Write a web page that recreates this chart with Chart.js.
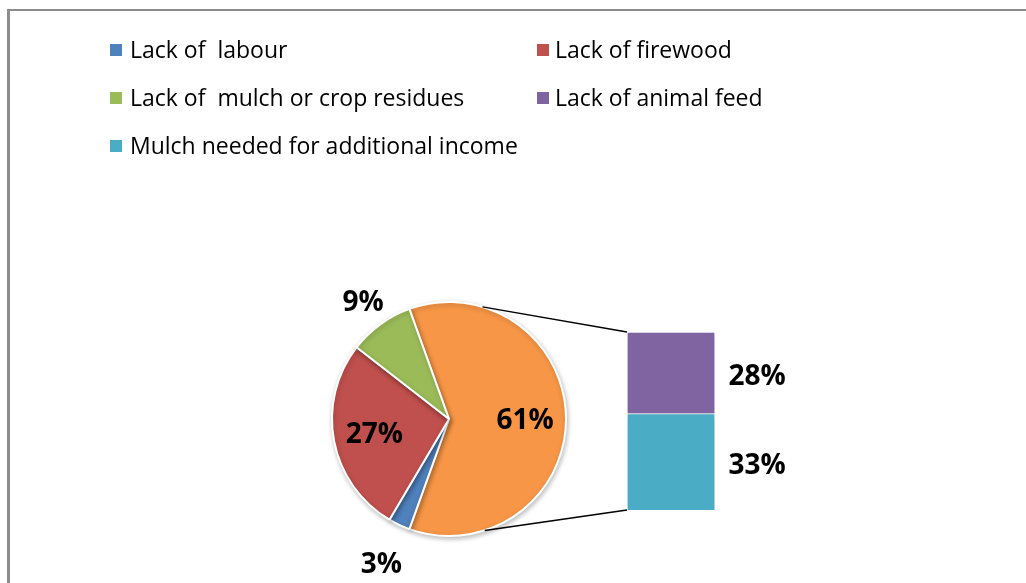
<!DOCTYPE html>
<html>
<head>
<meta charset="utf-8">
<script src="https://cdn.jsdelivr.net/npm/chart.js@4"></script>
<style>
    html, body { margin: 0; padding: 0; background: #fff; }
    #wrap { position: relative; width: 1026px; height: 583px; overflow: hidden; }
    #wrap canvas { position: absolute; left: 0; top: 0; }
    #frame { position: absolute; left: 7px; top: 9px; width: 1100px; height: 700px;
             border-top: 2px solid #8c8c8c; border-left: 3px solid #8c8c8c; }
</style>
</head>
<body>
<div id="wrap">
    <div id="frame"></div>
    <canvas id="pieChart" width="1026" height="583"></canvas>
    <canvas id="barChart" width="1026" height="583"></canvas>
</div>
<script>
// legend entries
var legendLabels = ['Lack of  labour', 'Lack of firewood', 'Lack of  mulch or crop residues',
    'Lack of animal feed', 'Mulch needed for additional income'];
var legendColors = ['#4f81bd', '#c0504d', '#9bbb59', '#8064a2', '#4bacc6'];

// pie: "Other" (orange) first, then labour, firewood, mulch
var pieLabels = ['Other', 'Lack of  labour', 'Lack of firewood', 'Lack of  mulch or crop residues'];
var pieValues = [61, 3, 27, 9];
var pieColors = ['#f79646', '#4f81bd', '#c0504d', '#9bbb59'];

// bar: stacked from bottom
var barLabels = ['Mulch needed for additional income', 'Lack of animal feed'];
var barValues = [33, 28];
var barColors = ['#4bacc6', '#8064a2'];

var labelFont = 'bold 28px "Open Sans", sans-serif';
var pieChart;

// ================= PIE =================
var pieLabelPlugin = {
    id: 'pieLabels',
    afterDatasetsDraw: function (chart) {
        var ctx = chart.ctx;
        var arcs = chart.getDatasetMeta(0).data;
        // distance of each label from centre, in radii
        var dist = [0.65, 1.36, 0.65, 1.25];
        ctx.save();
        ctx.font = labelFont;
        ctx.fillStyle = '#000';
        ctx.textAlign = 'center';
        ctx.textBaseline = 'middle';
        arcs.forEach(function (arc, i) {
            var mid = (arc.startAngle + arc.endAngle) / 2;
            var r = arc.outerRadius * dist[i];
            ctx.fillText(pieValues[i] + '%', arc.x + Math.cos(mid) * r, arc.y + Math.sin(mid) * r + 2);
        });
        ctx.restore();
    },
    afterDraw: function (chart) {
        // two-column legend
        var ctx = chart.ctx;
        ctx.save();
        ctx.font = '23px "Open Sans", sans-serif';
        ctx.textBaseline = 'middle';
        legendLabels.forEach(function (lbl, i) {
            var col = i % 2, row = Math.floor(i / 2);
            var x = col === 0 ? 110 : 537;
            var y = 50 + row * 48;
            ctx.fillStyle = legendColors[i];
            ctx.fillRect(x, y - 6, 12, 12);
            ctx.fillStyle = '#000';
            ctx.fillText(lbl, x + (col === 0 ? 20 : 18), y + 1);
        });
        ctx.restore();
    }
};

var shadowPlugin = {
    id: 'softShadow',
    beforeDatasetsDraw: function (chart) {
        chart.ctx.save();
        chart.ctx.shadowColor = 'rgba(0,0,0,0.25)';
        chart.ctx.shadowBlur = 5;
        chart.ctx.shadowOffsetX = 1;
        chart.ctx.shadowOffsetY = 2;
    },
    afterDatasetsDraw: function (chart) {
        chart.ctx.restore();
    }
};

pieChart = new Chart(document.getElementById('pieChart').getContext('2d'), {
    type: 'pie',
    data: {
        labels: pieLabels,
        datasets: [{
            data: pieValues,
            backgroundColor: pieColors,
            borderColor: '#fff',
            borderWidth: 2
        }]
    },
    options: {
        responsive: false,
        animation: false,
        rotation: -19.8,
        layout: { padding: { left: 331, right: 459, top: 301, bottom: 46 } },
        plugins: { legend: { display: false }, tooltip: { enabled: false } }
    },
    plugins: [shadowPlugin, pieLabelPlugin]
});

// ================= BAR OF PIE =================
var barLabelPlugin = {
    id: 'barLabels',
    afterDatasetsDraw: function (chart) {
        var ctx = chart.ctx;
        ctx.save();
        ctx.font = labelFont;
        ctx.fillStyle = '#000';
        ctx.textAlign = 'center';
        ctx.textBaseline = 'middle';
        chart.data.datasets.forEach(function (ds, i) {
            var bar = chart.getDatasetMeta(i).data[0];
            var right = bar.x + bar.width / 2;
            ctx.fillText(ds.data[0] + '%', right + 42, (bar.y + bar.base) / 2 + 4);
        });

        // connector lines from pie to bar corners
        var arc = pieChart.getDatasetMeta(0).data[0];
        var top = chart.getDatasetMeta(chart.data.datasets.length - 1).data[0];
        var bottom = chart.getDatasetMeta(0).data[0];
        var left = top.x - top.width / 2;
        var a1 = -Math.PI / 2 + 0.29, a2 = Math.PI / 2 - 0.31;
        ctx.strokeStyle = '#000';
        ctx.lineWidth = 1.5;
        ctx.beginPath();
        ctx.moveTo(arc.x + Math.cos(a1) * arc.outerRadius, arc.y + Math.sin(a1) * arc.outerRadius);
        ctx.lineTo(left, top.y);
        ctx.moveTo(arc.x + Math.cos(a2) * arc.outerRadius, arc.y + Math.sin(a2) * arc.outerRadius);
        ctx.lineTo(left, bottom.base);
        ctx.stroke();
        ctx.restore();
    }
};

var barDatasets = barValues.map(function (v, i) {
    return {
        label: barLabels[i],
        data: [v],
        backgroundColor: barColors[i],
        borderColor: '#fff',
        borderWidth: 1,
        barPercentage: 1,
        categoryPercentage: 1
    };
});

new Chart(document.getElementById('barChart').getContext('2d'), {
    type: 'bar',
    data: { labels: [''], datasets: barDatasets },
    options: {
        responsive: false,
        animation: false,
        layout: { padding: { left: 627, right: 311, top: 332, bottom: 73 } },
        scales: {
            x: { stacked: true, display: false },
            y: { stacked: true, display: false, min: 0, max: 61 }
        },
        plugins: { legend: { display: false }, tooltip: { enabled: false } }
    },
    plugins: [shadowPlugin, barLabelPlugin]
});
</script>
</body>
</html>
